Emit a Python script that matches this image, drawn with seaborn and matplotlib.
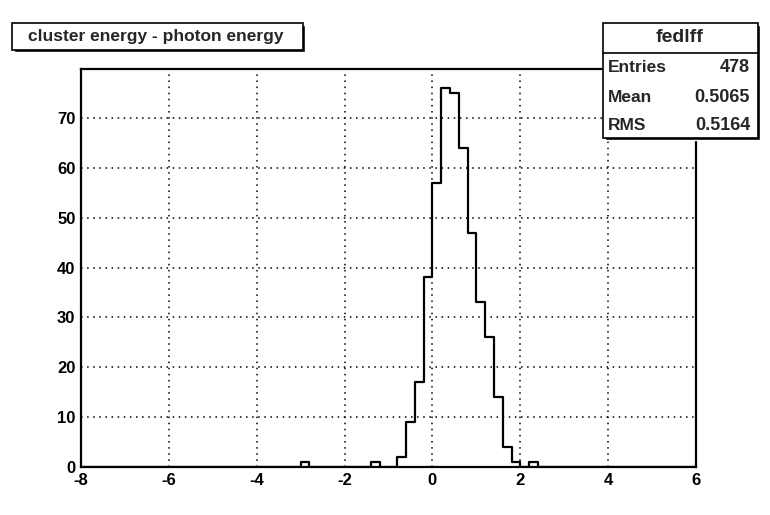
import numpy as np
import pandas as pd
import matplotlib
matplotlib.use("Agg")
import matplotlib.pyplot as plt
import matplotlib.font_manager as fm
from matplotlib.patches import Rectangle
from matplotlib.lines import Line2D
from matplotlib.ticker import MultipleLocator
import seaborn as sns

# histogram content (left edge of each filled bin, bin width 0.2)
bin_left = [-3.0, -1.4, -0.8, -0.6, -0.4, -0.2, 0.0, 0.2, 0.4, 0.6,
            0.8, 1.0, 1.2, 1.4, 1.6, 1.8, 2.2]
counts = [1, 1, 2, 9, 17, 38, 57, 76, 75, 64, 47, 33, 26, 14, 4, 1, 1]
bin_width = 0.2
x_range = (-8, 6)

title = "cluster energy - photon energy"
hist_name = "fedlff"
stat_names = ["Entries", "Mean", "RMS"]
stat_values = ["478", "0.5065", "0.5164"]

sns.set_style("white")
names = {f.name for f in fm.fontManager.ttflist}
font = "Liberation Sans Narrow" if "Liberation Sans Narrow" in names else "Liberation Sans"
plt.rcParams["font.family"] = [font, "DejaVu Sans"]
plt.rcParams["font.weight"] = "bold"
plt.rcParams["axes.unicode_minus"] = False

df = pd.DataFrame({"x": np.array(bin_left) + bin_width / 2, "n": counts})

fig = plt.figure(figsize=(7.7, 5.15), dpi=100)
W, H = 770, 515


def fx(px):
    return px / W


def fy(py):
    return 1 - py / H


ax = fig.add_axes([fx(81), fy(467), fx(696) - fx(81), fy(69) - fy(467)])

sns.histplot(data=df, x="x", weights="n", binwidth=bin_width, binrange=x_range,
             element="step", fill=False, color="black", linewidth=1.6, ax=ax)

ax.set_xlim(*x_range)
ax.set_ylim(0, 1.05 * max(counts))
ax.set_xlabel("")
ax.set_ylabel("")

ax.xaxis.set_major_locator(MultipleLocator(2))
ax.xaxis.set_minor_locator(MultipleLocator(0.5))
ax.yaxis.set_major_locator(MultipleLocator(10))
ax.yaxis.set_minor_locator(MultipleLocator(2))
ax.tick_params(axis="both", which="both", direction="in", width=1.3,
               colors="black", top=False, right=False)
ax.tick_params(axis="x", which="major", length=10, pad=4, labelsize=12)
ax.tick_params(axis="x", which="minor", length=5)
ax.tick_params(axis="y", which="major", length=14, pad=4, labelsize=12)
ax.tick_params(axis="y", which="minor", length=7)
for lab in ax.get_xticklabels() + ax.get_yticklabels():
    lab.set_fontweight("bold")
ax.get_yticklabels()[0].set_va("bottom")

ax.grid(True, which="major", color="black", linestyle=(0, (1, 3)), linewidth=1.1)
for s in ax.spines.values():
    s.set_linewidth(1.6)
    s.set_color("black")

# title box
fig.patches.append(Rectangle((fx(14), fy(52)), fx(305) - fx(14), fy(25) - fy(52),
                             transform=fig.transFigure, facecolor="black", zorder=5))
fig.patches.append(Rectangle((fx(12), fy(50)), fx(303) - fx(12), fy(23) - fy(50),
                             transform=fig.transFigure, facecolor="white",
                             edgecolor="black", linewidth=1.2, zorder=6))
fig.text(fx(156), fy(37), title, ha="center", va="center", fontsize=12.5,
         fontweight="bold", zorder=7)

# stats box
fig.patches.append(Rectangle((fx(605), fy(140)), fx(760) - fx(605), fy(25) - fy(140),
                             transform=fig.transFigure, facecolor="black", zorder=5))
fig.patches.append(Rectangle((fx(603), fy(138)), fx(758) - fx(603), fy(23) - fy(138),
                             transform=fig.transFigure, facecolor="white",
                             edgecolor="black", linewidth=1.2, zorder=6))
fig.lines.append(Line2D([fx(603), fx(758)], [fy(53), fy(53)], transform=fig.transFigure,
                        color="black", linewidth=1.2, zorder=7))
fig.text(fx(680), fy(38), hist_name, ha="center", va="center", fontsize=14,
         fontweight="bold", zorder=8)
for i, (name, val) in enumerate(zip(stat_names, stat_values)):
    y = fy(68 + 29 * i)
    fig.text(fx(608), y, name, ha="left", va="center", fontsize=12.5,
             fontweight="bold", zorder=8)
    fig.text(fx(750), y, val, ha="right", va="center", fontsize=13,
             fontweight="bold", zorder=8)

fig.savefig("out.png", dpi=100)
